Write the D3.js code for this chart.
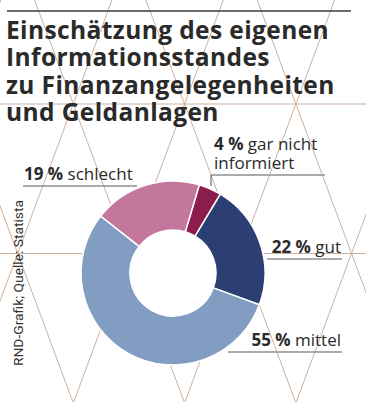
<!DOCTYPE html>
<html>
<head>
<meta charset="utf-8">
<script src="https://cdn.jsdelivr.net/npm/d3@7"></script>
<style>
  body { margin: 0; background: #fff; }
  svg { display: block; }
</style>
</head>
<body>
<div id="chart"></div>
<script>
// chart data
var titleLines = ["Einschätzung des eigenen", "Informationsstandes", "zu Finanzangelegenheiten", "und Geldanlagen"];
var categories = ["gar nicht informiert", "gut", "mittel", "schlecht"];
var shares = [4, 22, 55, 19];
var labelWords = [["gar nicht", "informiert"], ["gut"], ["mittel"], ["schlecht"]];
var sourceText = "RND-Grafik; Quelle: Statista";

var sliceColors = ["#8a1d4b", "#2c3f73", "#819dc1", "#c3779c"];

// label placement (hand placed like the original)
var labelLayout = [
  { x: 214, y: 150, anchor: "start", line: [211, 325, 175], tick: [175, 186] },
  { x: 341, y: 253, anchor: "end", line: [267, 342, 259] },
  { x: 341, y: 346, anchor: "end", line: [228, 342, 352] },
  { x: 24, y: 180, anchor: "start", line: [23, 137, 186] }
];

var width = 366, height = 402;
var cx = 173, cy = 273, outerR = 92, innerR = 43;

var svg = d3.select("#chart").append("svg")
    .attr("width", width)
    .attr("height", height);

// background lattice of triangles
var lattice = svg.append("g").attr("stroke", "#c9a78f").attr("stroke-width", 0.9).attr("fill", "none");
var dx = 111.3, rowY = 104, rowH = 149.5, x0 = 73.3;
var slope = (dx / 2) / rowH;
[rowY, rowY + rowH].forEach(function(y) {
  lattice.append("line").attr("x1", 0).attr("x2", width).attr("y1", y).attr("y2", y);
});
d3.range(-4, 6).forEach(function(j) {
  var xa = x0 + dx * j;
  lattice.append("line")
      .attr("x1", xa + slope * (-20 - rowY)).attr("y1", -20)
      .attr("x2", xa + slope * (height + 20 - rowY)).attr("y2", height + 20);
  lattice.append("line")
      .attr("x1", xa - slope * (-20 - rowY)).attr("y1", -20)
      .attr("x2", xa - slope * (height + 20 - rowY)).attr("y2", height + 20);
});

// top rule
svg.append("line")
    .attr("x1", 7).attr("x2", 351).attr("y1", 11).attr("y2", 11)
    .attr("stroke", "#3b3b3b").attr("stroke-width", 1.6);

// title
svg.append("g").selectAll("text")
    .data(titleLines)
  .enter().append("text")
    .attr("x", 6)
    .attr("y", function(d, i) { return 39 + i * 27.4; })
    .attr("font-family", "'Open Sans', sans-serif")
    .attr("font-weight", 700)
    .attr("font-size", 24.5)
    .attr("letter-spacing", 0.4)
    .attr("fill", "#2a2a2a")
    .text(function(d) { return d; });

// source
svg.append("text")
    .attr("transform", "translate(23,366) rotate(-90)")
    .attr("font-family", "Roboto, sans-serif")
    .attr("font-size", 12.5)
    .attr("fill", "#333")
    .attr("textLength", 166)
    .attr("lengthAdjust", "spacingAndGlyphs")
    .text(sourceText);

// donut
var pie = d3.pie().sort(null)
    .startAngle(0.29)
    .endAngle(0.29 + 2 * Math.PI);
var arc = d3.arc().innerRadius(innerR).outerRadius(outerR);

var donut = svg.append("g").attr("transform", "translate(" + cx + "," + cy + ")");
donut.append("circle").attr("r", innerR).attr("fill", "#fff");
donut.selectAll("path")
    .data(pie(shares))
  .enter().append("path")
    .attr("d", arc)
    .attr("fill", function(d, i) { return sliceColors[i]; })
    .attr("stroke", "#fff")
    .attr("stroke-width", 1.5);

// labels
var labels = svg.append("g")
    .attr("font-family", "'Open Sans', sans-serif")
    .attr("font-size", 17)
    .attr("fill", "#2a2a2a");

categories.forEach(function(c, i) {
  var L = labelLayout[i];
  var t = labels.append("text")
      .attr("x", L.x).attr("y", L.y)
      .attr("text-anchor", L.anchor);
  t.append("tspan").attr("font-weight", 700).text(shares[i] + " %");
  t.append("tspan").attr("font-weight", 400).text(" " + labelWords[i][0]);
  if (labelWords[i].length > 1) {
    labels.append("text")
        .attr("x", L.x).attr("y", L.y + 18.5)
        .attr("text-anchor", L.anchor)
        .attr("font-weight", 400)
        .text(labelWords[i][1]);
  }
  labels.append("line")
      .attr("x1", L.line[0]).attr("x2", L.line[1])
      .attr("y1", L.line[2]).attr("y2", L.line[2])
      .attr("stroke", "#8f8f8f").attr("stroke-width", 1.4);
  if (L.tick) {
    labels.append("line")
        .attr("x1", L.line[0]).attr("x2", L.line[0])
        .attr("y1", L.tick[0]).attr("y2", L.tick[1])
        .attr("stroke", "#555").attr("stroke-width", 1);
  }
});
</script>
</body>
</html>
